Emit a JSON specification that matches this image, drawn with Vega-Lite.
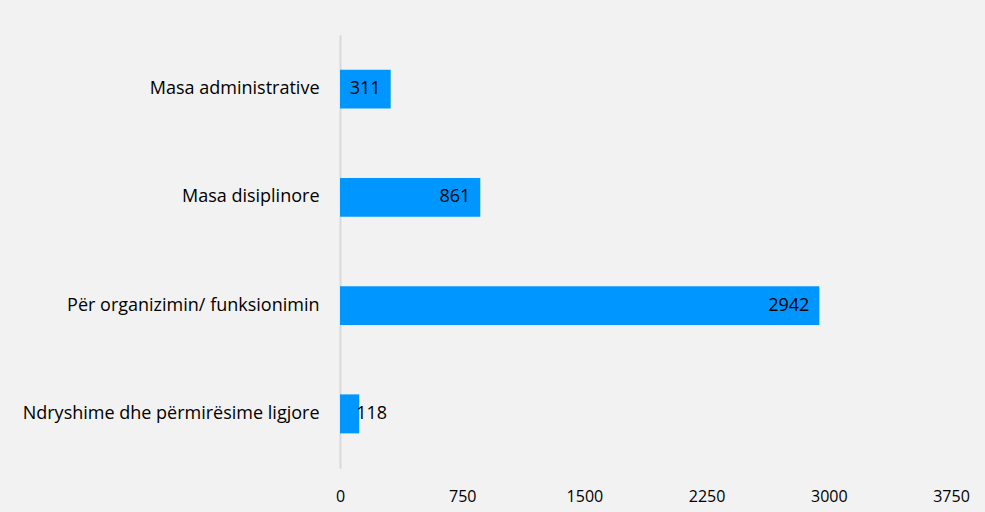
{
  "$schema": "https://vega.github.io/schema/vega-lite/v6.json",
  "autosize": "none",
  "width": 611,
  "height": 433,
  "padding": {"left": 340, "top": 35, "right": 34, "bottom": 44},
  "background": "#f2f2f2",
  "config": {
    "view": {"stroke": null},
    "font": "Open Sans",
    "axis": {"labelFont": "Open Sans", "labelColor": "#000000", "labelFontSize": 16, "grid": false, "ticks": false, "title": null}
  },
  "data": {
    "values": [
      {"kategoria": "Masa administrative", "vlera": 311},
      {"kategoria": "Masa disiplinore", "vlera": 861},
      {"kategoria": "Për organizimin/ funksionimin", "vlera": 2942},
      {"kategoria": "Ndryshime dhe përmirësime ligjore", "vlera": 118}
    ]
  },
  "encoding": {
    "y": {
      "field": "kategoria", "type": "nominal", "sort": null,
      "scale": {"paddingInner": 0.64, "paddingOuter": 0.32},
      "axis": {"domain": true, "domainColor": "#d9d9d9", "domainWidth": 2, "labelPadding": 21, "labelLimit": 400, "labelFontSize": 18}
    },
    "x": {
      "field": "vlera", "type": "quantitative",
      "scale": {"domain": [0, 3750], "nice": false},
      "axis": {"values": [0, 750, 1500, 2250, 3000, 3750], "format": "d", "domain": false, "labelPadding": 20, "labelFlush": false, "labelFontSize": 16}
    }
  },
  "layer": [
    {"mark": {"type": "bar", "color": "#0096ff"}},
    {
      "transform": [{"filter": "datum.vlera >= 200"}],
      "mark": {"type": "text", "align": "right", "dx": -10, "fontSize": 18, "color": "#000000"},
      "encoding": {"text": {"field": "vlera", "type": "quantitative"}}
    },
    {
      "transform": [{"filter": "datum.vlera < 200"}],
      "mark": {"type": "text", "align": "left", "dx": -3, "fontSize": 18, "color": "#000000"},
      "encoding": {"text": {"field": "vlera", "type": "quantitative"}}
    }
  ]
}
